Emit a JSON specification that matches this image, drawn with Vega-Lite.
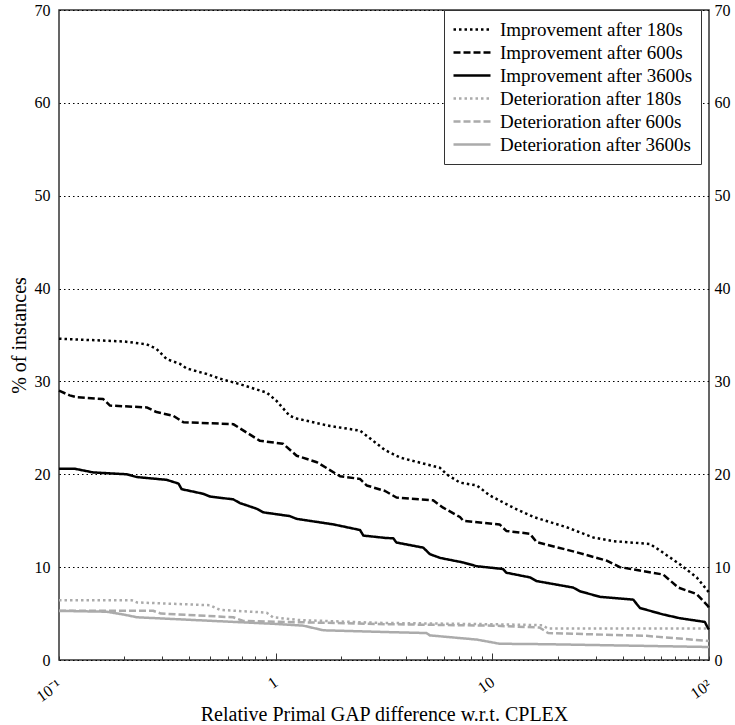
{
  "$schema": "https://vega.github.io/schema/vega-lite/v6.json",
  "width": 650,
  "height": 650,
  "autosize": {"type": "none"},
  "padding": {"left": 59, "top": 10, "right": 26, "bottom": 65},
  "background": "white",
  "config": {
    "font": "Liberation Serif",
    "view": {"stroke": "#333333", "strokeWidth": 1.5},
    "axis": {"labelFont": "Liberation Serif", "titleFont": "Liberation Serif"},
    "legend": {"labelFont": "Liberation Serif"}
  },
  "datasets": {
    "curves": [
      {"s": "Improvement after 180s", "x": 0.1, "y": 34.6},
      {"s": "Improvement after 180s", "x": 0.2, "y": 34.3},
      {"s": "Improvement after 180s", "x": 0.254, "y": 34.0},
      {"s": "Improvement after 180s", "x": 0.282, "y": 33.5},
      {"s": "Improvement after 180s", "x": 0.314, "y": 32.4},
      {"s": "Improvement after 180s", "x": 0.361, "y": 31.9},
      {"s": "Improvement after 180s", "x": 0.388, "y": 31.4},
      {"s": "Improvement after 180s", "x": 0.481, "y": 30.8},
      {"s": "Improvement after 180s", "x": 0.553, "y": 30.3},
      {"s": "Improvement after 180s", "x": 0.684, "y": 29.7},
      {"s": "Improvement after 180s", "x": 0.909, "y": 28.8},
      {"s": "Improvement after 180s", "x": 1.01, "y": 27.9},
      {"s": "Improvement after 180s", "x": 1.16, "y": 26.3},
      {"s": "Improvement after 180s", "x": 1.25, "y": 26.0},
      {"s": "Improvement after 180s", "x": 1.78, "y": 25.2},
      {"s": "Improvement after 180s", "x": 2.45, "y": 24.7},
      {"s": "Improvement after 180s", "x": 2.82, "y": 23.6},
      {"s": "Improvement after 180s", "x": 3.2, "y": 22.6},
      {"s": "Improvement after 180s", "x": 3.75, "y": 21.8},
      {"s": "Improvement after 180s", "x": 5.73, "y": 20.7},
      {"s": "Improvement after 180s", "x": 6.15, "y": 20.0},
      {"s": "Improvement after 180s", "x": 7.09, "y": 19.1},
      {"s": "Improvement after 180s", "x": 8.47, "y": 18.8},
      {"s": "Improvement after 180s", "x": 9.76, "y": 17.7},
      {"s": "Improvement after 180s", "x": 12.5, "y": 16.4},
      {"s": "Improvement after 180s", "x": 15.5, "y": 15.4},
      {"s": "Improvement after 180s", "x": 22.0, "y": 14.3},
      {"s": "Improvement after 180s", "x": 29.2, "y": 13.2},
      {"s": "Improvement after 180s", "x": 36.1, "y": 12.8},
      {"s": "Improvement after 180s", "x": 53.3, "y": 12.5},
      {"s": "Improvement after 180s", "x": 59.3, "y": 11.8},
      {"s": "Improvement after 180s", "x": 73.4, "y": 10.3},
      {"s": "Improvement after 180s", "x": 87.7, "y": 8.9},
      {"s": "Improvement after 180s", "x": 99, "y": 7.4},
      {"s": "Improvement after 180s", "x": 100, "y": 7.2},
      {"s": "Improvement after 600s", "x": 0.1, "y": 29.0},
      {"s": "Improvement after 600s", "x": 0.112, "y": 28.5},
      {"s": "Improvement after 600s", "x": 0.121, "y": 28.3},
      {"s": "Improvement after 600s", "x": 0.16, "y": 28.1},
      {"s": "Improvement after 600s", "x": 0.172, "y": 27.4},
      {"s": "Improvement after 600s", "x": 0.254, "y": 27.2},
      {"s": "Improvement after 600s", "x": 0.282, "y": 26.7},
      {"s": "Improvement after 600s", "x": 0.337, "y": 26.3},
      {"s": "Improvement after 600s", "x": 0.375, "y": 25.6},
      {"s": "Improvement after 600s", "x": 0.637, "y": 25.4},
      {"s": "Improvement after 600s", "x": 0.734, "y": 24.5},
      {"s": "Improvement after 600s", "x": 0.847, "y": 23.6},
      {"s": "Improvement after 600s", "x": 1.08, "y": 23.3},
      {"s": "Improvement after 600s", "x": 1.25, "y": 22.0},
      {"s": "Improvement after 600s", "x": 1.55, "y": 21.3},
      {"s": "Improvement after 600s", "x": 1.98, "y": 19.8},
      {"s": "Improvement after 600s", "x": 2.45, "y": 19.5},
      {"s": "Improvement after 600s", "x": 2.63, "y": 18.8},
      {"s": "Improvement after 600s", "x": 3.2, "y": 18.2},
      {"s": "Improvement after 600s", "x": 3.61, "y": 17.5},
      {"s": "Improvement after 600s", "x": 5.33, "y": 17.2},
      {"s": "Improvement after 600s", "x": 5.93, "y": 16.4},
      {"s": "Improvement after 600s", "x": 7.09, "y": 15.4},
      {"s": "Improvement after 600s", "x": 7.34, "y": 15.0},
      {"s": "Improvement after 600s", "x": 10.8, "y": 14.6},
      {"s": "Improvement after 600s", "x": 11.6, "y": 13.9},
      {"s": "Improvement after 600s", "x": 14.9, "y": 13.6},
      {"s": "Improvement after 600s", "x": 16.0, "y": 12.7},
      {"s": "Improvement after 600s", "x": 24.5, "y": 11.6},
      {"s": "Improvement after 600s", "x": 33.7, "y": 10.7},
      {"s": "Improvement after 600s", "x": 38.8, "y": 10.0},
      {"s": "Improvement after 600s", "x": 61.5, "y": 9.2},
      {"s": "Improvement after 600s", "x": 72.1, "y": 7.8},
      {"s": "Improvement after 600s", "x": 87.7, "y": 7.1},
      {"s": "Improvement after 600s", "x": 99, "y": 5.8},
      {"s": "Improvement after 600s", "x": 100, "y": 5.6},
      {"s": "Improvement after 3600s", "x": 0.1, "y": 20.6},
      {"s": "Improvement after 3600s", "x": 0.118, "y": 20.6},
      {"s": "Improvement after 3600s", "x": 0.144, "y": 20.2},
      {"s": "Improvement after 3600s", "x": 0.205, "y": 20.0},
      {"s": "Improvement after 3600s", "x": 0.229, "y": 19.7},
      {"s": "Improvement after 3600s", "x": 0.314, "y": 19.4},
      {"s": "Improvement after 3600s", "x": 0.356, "y": 19.0},
      {"s": "Improvement after 3600s", "x": 0.368, "y": 18.4},
      {"s": "Improvement after 3600s", "x": 0.463, "y": 17.9},
      {"s": "Improvement after 3600s", "x": 0.498, "y": 17.6},
      {"s": "Improvement after 3600s", "x": 0.637, "y": 17.3},
      {"s": "Improvement after 3600s", "x": 0.684, "y": 16.9},
      {"s": "Improvement after 3600s", "x": 0.815, "y": 16.3},
      {"s": "Improvement after 3600s", "x": 0.877, "y": 15.9},
      {"s": "Improvement after 3600s", "x": 1.16, "y": 15.5},
      {"s": "Improvement after 3600s", "x": 1.25, "y": 15.2},
      {"s": "Improvement after 3600s", "x": 1.85, "y": 14.6},
      {"s": "Improvement after 3600s", "x": 2.45, "y": 14.0},
      {"s": "Improvement after 3600s", "x": 2.54, "y": 13.4},
      {"s": "Improvement after 3600s", "x": 3.2, "y": 13.15},
      {"s": "Improvement after 3600s", "x": 3.49, "y": 13.1},
      {"s": "Improvement after 3600s", "x": 3.61, "y": 12.65},
      {"s": "Improvement after 3600s", "x": 4.8, "y": 12.1},
      {"s": "Improvement after 3600s", "x": 5.15, "y": 11.4},
      {"s": "Improvement after 3600s", "x": 5.73, "y": 11.0},
      {"s": "Improvement after 3600s", "x": 7.34, "y": 10.5},
      {"s": "Improvement after 3600s", "x": 8.47, "y": 10.1},
      {"s": "Improvement after 3600s", "x": 11.2, "y": 9.8},
      {"s": "Improvement after 3600s", "x": 11.6, "y": 9.4},
      {"s": "Improvement after 3600s", "x": 14.9, "y": 8.9},
      {"s": "Improvement after 3600s", "x": 16.0, "y": 8.5},
      {"s": "Improvement after 3600s", "x": 23.6, "y": 7.8},
      {"s": "Improvement after 3600s", "x": 25.4, "y": 7.4},
      {"s": "Improvement after 3600s", "x": 31.4, "y": 6.8},
      {"s": "Improvement after 3600s", "x": 44.7, "y": 6.5},
      {"s": "Improvement after 3600s", "x": 48.0, "y": 5.6},
      {"s": "Improvement after 3600s", "x": 61.5, "y": 4.9},
      {"s": "Improvement after 3600s", "x": 73.4, "y": 4.5},
      {"s": "Improvement after 3600s", "x": 95.7, "y": 4.1},
      {"s": "Improvement after 3600s", "x": 99, "y": 3.4},
      {"s": "Improvement after 3600s", "x": 100, "y": 3.3},
      {"s": "Deterioration after 180s", "x": 0.1, "y": 6.44},
      {"s": "Deterioration after 180s", "x": 0.216, "y": 6.44},
      {"s": "Deterioration after 180s", "x": 0.229, "y": 6.2},
      {"s": "Deterioration after 180s", "x": 0.498, "y": 5.9},
      {"s": "Deterioration after 180s", "x": 0.553, "y": 5.4},
      {"s": "Deterioration after 180s", "x": 0.909, "y": 5.1},
      {"s": "Deterioration after 180s", "x": 0.971, "y": 4.6},
      {"s": "Deterioration after 180s", "x": 1.29, "y": 4.3},
      {"s": "Deterioration after 180s", "x": 3.0, "y": 4.0},
      {"s": "Deterioration after 180s", "x": 10.0, "y": 3.85},
      {"s": "Deterioration after 180s", "x": 17.0, "y": 3.75},
      {"s": "Deterioration after 180s", "x": 18.0, "y": 3.4},
      {"s": "Deterioration after 180s", "x": 100, "y": 3.4},
      {"s": "Deterioration after 600s", "x": 0.1, "y": 5.3},
      {"s": "Deterioration after 600s", "x": 0.272, "y": 5.3},
      {"s": "Deterioration after 600s", "x": 0.296, "y": 5.0},
      {"s": "Deterioration after 600s", "x": 0.637, "y": 4.6},
      {"s": "Deterioration after 600s", "x": 0.709, "y": 4.2},
      {"s": "Deterioration after 600s", "x": 3.37, "y": 3.85},
      {"s": "Deterioration after 600s", "x": 10.0, "y": 3.7},
      {"s": "Deterioration after 600s", "x": 16.5, "y": 3.5},
      {"s": "Deterioration after 600s", "x": 18.1, "y": 2.9},
      {"s": "Deterioration after 600s", "x": 51.5, "y": 2.6},
      {"s": "Deterioration after 600s", "x": 100, "y": 2.05},
      {"s": "Deterioration after 3600s", "x": 0.1, "y": 5.29},
      {"s": "Deterioration after 3600s", "x": 0.166, "y": 5.2},
      {"s": "Deterioration after 3600s", "x": 0.198, "y": 4.9},
      {"s": "Deterioration after 3600s", "x": 0.229, "y": 4.6},
      {"s": "Deterioration after 3600s", "x": 0.971, "y": 3.9},
      {"s": "Deterioration after 3600s", "x": 1.34, "y": 3.7},
      {"s": "Deterioration after 3600s", "x": 1.66, "y": 3.2},
      {"s": "Deterioration after 3600s", "x": 3.37, "y": 3.0},
      {"s": "Deterioration after 3600s", "x": 4.97, "y": 2.9},
      {"s": "Deterioration after 3600s", "x": 5.15, "y": 2.65},
      {"s": "Deterioration after 3600s", "x": 8.47, "y": 2.2},
      {"s": "Deterioration after 3600s", "x": 10.8, "y": 1.75},
      {"s": "Deterioration after 3600s", "x": 17.8, "y": 1.7},
      {"s": "Deterioration after 3600s", "x": 100, "y": 1.4}
    ]
  },
  "data": {"name": "curves"},
  "layer": [
    {
      "mark": {"type": "line", "strokeWidth": 2.5, "strokeCap": "butt", "strokeJoin": "round"},
      "encoding": {
        "x": {
          "field": "x", "type": "quantitative",
          "scale": {"type": "log", "domain": [0.1, 100], "nice": false},
          "axis": {
            "title": "Relative Primal GAP difference w.r.t. CPLEX",
            "titleFontSize": 20, "titleFontWeight": "normal", "titleColor": "black", "titlePadding": 0,
            "values": [0.1, 0.2, 0.3, 0.4, 0.5, 0.6, 0.7, 0.8, 0.9, 1, 2, 3, 4, 5, 6, 7, 8, 9, 10, 20, 30, 40, 50, 60, 70, 80, 90, 100],
            "labelExpr": "datum.value == 0.1 ? '10⁻¹' : datum.value == 1 ? '1' : datum.value == 10 ? '10' : datum.value == 100 ? '10²' : ''",
            "labelAngle": -35, "labelAlign": "right", "labelBaseline": "middle",
            "labelFontSize": 16, "labelColor": "black", "labelPadding": 27,
            "labelFlush": false, "labelOverlap": false, "labelBound": false,
            "tickSize": {"condition": {"test": "datum.value == 1 || datum.value == 10", "value": -7}, "value": -4},
            "tickColor": "#333333", "tickWidth": 1,
            "domain": false, "grid": false
          }
        },
        "y": {
          "field": "y", "type": "quantitative",
          "scale": {"domain": [0, 70], "nice": false},
          "axis": {
            "title": "% of instances",
            "titleFontSize": 20, "titleFontWeight": "normal", "titleColor": "black", "titlePadding": 5,
            "values": [0, 10, 20, 30, 40, 50, 60, 70],
            "ticks": false, "domain": false,
            "grid": true, "gridColor": "black", "gridDash": [1.5, 3], "gridWidth": 1,
            "labelFontSize": 16, "labelColor": "black", "labelPadding": 9
          }
        },
        "color": {
          "field": "s", "type": "nominal",
          "scale": {
            "domain": ["Improvement after 180s", "Improvement after 600s", "Improvement after 3600s", "Deterioration after 180s", "Deterioration after 600s", "Deterioration after 3600s"],
            "range": ["#000000", "#000000", "#000000", "#ababab", "#ababab", "#ababab"]
          },
          "legend": {
            "title": null, "orient": "none", "legendX": 385, "legendY": 0,
            "symbolType": "stroke", "symbolSize": 1369, "symbolStrokeWidth": 2.5,
            "labelFontSize": 19, "labelColor": "black", "labelLimit": 400, "labelOffset": 8,
            "padding": 8, "rowPadding": 0, "clipHeight": 23,
            "strokeColor": "#333333", "fillColor": "white"
          }
        },
        "strokeDash": {
          "field": "s", "type": "nominal",
          "scale": {
            "domain": ["Improvement after 180s", "Improvement after 600s", "Improvement after 3600s", "Deterioration after 180s", "Deterioration after 600s", "Deterioration after 3600s"],
            "range": [[2.5, 3], [7, 3], [1, 0], [2.5, 3], [7, 3], [1, 0]]
          },
          "legend": {
            "title": null, "orient": "none", "legendX": 385, "legendY": 0,
            "symbolType": "stroke", "symbolSize": 1369, "symbolStrokeWidth": 2.5,
            "labelFontSize": 19, "labelColor": "black", "labelLimit": 400, "labelOffset": 8,
            "padding": 8, "rowPadding": 0, "clipHeight": 23,
            "strokeColor": "#333333", "fillColor": "white"
          }
        }
      }
    },
    {
      "mark": {"type": "line", "opacity": 0},
      "encoding": {
        "x": {
          "field": "x", "type": "quantitative",
          "scale": {"type": "log", "domain": [0.1, 100], "nice": false},
          "axis": {
            "title": "Relative Primal GAP difference w.r.t. CPLEX",
            "titleFontSize": 20, "titleFontWeight": "normal", "titleColor": "black", "titlePadding": 0,
            "values": [0.1, 0.2, 0.3, 0.4, 0.5, 0.6, 0.7, 0.8, 0.9, 1, 2, 3, 4, 5, 6, 7, 8, 9, 10, 20, 30, 40, 50, 60, 70, 80, 90, 100],
            "labelExpr": "datum.value == 0.1 ? '10⁻¹' : datum.value == 1 ? '1' : datum.value == 10 ? '10' : datum.value == 100 ? '10²' : ''",
            "labelAngle": -35, "labelAlign": "right", "labelBaseline": "middle",
            "labelFontSize": 16, "labelColor": "black", "labelPadding": 27,
            "labelFlush": false, "labelOverlap": false, "labelBound": false,
            "tickSize": {"condition": {"test": "datum.value == 1 || datum.value == 10", "value": -7}, "value": -4},
            "tickColor": "#333333", "tickWidth": 1,
            "domain": false, "grid": false
          }
        },
        "y": {
          "field": "y", "type": "quantitative",
          "scale": {"domain": [0, 70], "nice": false},
          "axis": {
            "orient": "right", "title": null,
            "values": [0, 10, 20, 30, 40, 50, 60, 70],
            "ticks": false, "domain": false, "grid": false,
            "labelFontSize": 16, "labelColor": "black", "labelPadding": 5
          }
        },
        "detail": {"field": "s", "type": "nominal"}
      }
    }
  ],
  "resolve": {"axis": {"y": "independent"}}
}
